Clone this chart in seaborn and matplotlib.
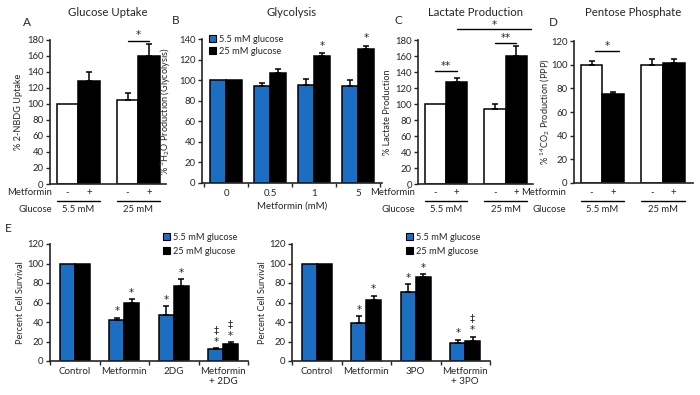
import numpy as np
import pandas as pd
import matplotlib.pyplot as plt
import matplotlib.transforms as mtransforms
from matplotlib.patches import Patch
from matplotlib.lines import Line2D
import seaborn as sns

W, H = 700, 395
BLUE = '#1b6ec2'
MARK_FONT = ['DejaVu Sans']

# --- data -----------------------------------------------------------------
glucose_levels = ['5.5 mM', '25 mM']
metformin_signs = ['-', '+']

uptake_ctrl = [100, 105]
uptake_ctrl_err = [0, 8]
uptake_met = [128, 160]
uptake_met_err = [12, 15]

metformin_doses = ['0', '0.5', '1', '5']
glyco_low = [100, 94, 95, 94]
glyco_low_err = [0, 3.5, 6, 6]
glyco_high = [100, 107, 123, 130]
glyco_high_err = [0, 3.5, 3, 3]
glyco_high_marks = ['', '', '*', '*']

lactate_ctrl = [100, 94]
lactate_ctrl_err = [0, 5.5]
lactate_met = [127, 160]
lactate_met_err = [6, 12]

ppp_ctrl = [100, 100]
ppp_ctrl_err = [3, 5]
ppp_met = [75, 101]
ppp_met_err = [2, 4]

surv_2dg_labels = ['Control', 'Metformin', '2DG', 'Metformin\n+ 2DG']
surv_2dg_low = [100, 42, 47, 12]
surv_2dg_low_err = [0, 2.5, 9, 1.5]
surv_2dg_high = [100, 60, 77, 17]
surv_2dg_high_err = [0, 3.5, 7, 2]
surv_2dg_low_marks = ['', '*', '*', '*‡']
surv_2dg_high_marks = ['', '*', '*', '*‡']

surv_3po_labels = ['Control', 'Metformin', '3PO', 'Metformin\n+ 3PO']
surv_3po_low = [100, 39, 71, 18]
surv_3po_low_err = [0, 7, 8, 4]
surv_3po_high = [100, 63, 86, 21]
surv_3po_high_err = [0, 4, 3, 4]
surv_3po_low_marks = ['', '*', '*', '*']
surv_3po_high_marks = ['', '*', '*', '*‡']

legend_labels = ['5.5 mM glucose', '25 mM glucose']

# --- style ----------------------------------------------------------------
sns.set_style('ticks')
plt.rcParams['font.family'] = ['Lato', 'DejaVu Sans']
plt.rcParams['axes.linewidth'] = 1.2

fig = plt.figure(figsize=(7, 3.95), dpi=100)


def px_axes(x0, y0, x1, y1):
    return fig.add_axes([x0 / W, 1 - y1 / H, (x1 - x0) / W, (y1 - y0) / H])


def grouped_bars(ax, cats, hues, values, errors, colors, width):
    rows = []
    for h, vals in zip(hues, values):
        for c, v in zip(cats, vals):
            rows.append({'cat': c, 'hue': h, 'val': v})
    sns.barplot(data=pd.DataFrame(rows), x='cat', y='val', hue='hue',
                order=cats, hue_order=hues, palette=dict(zip(hues, colors)),
                saturation=1, width=width, gap=0, edgecolor='black',
                linewidth=1.1, errorbar=None, legend=False, ax=ax)
    info = []
    for cont, errs in zip(ax.containers, errors):
        level = []
        for bar, e in zip(cont, errs):
            xc = bar.get_x() + bar.get_width() / 2
            top = bar.get_height()
            if e > 0:
                ax.errorbar(xc, top, yerr=[[0], [e]], fmt='none', ecolor='black',
                            elinewidth=1.1, capsize=2.5, capthick=1.1, zorder=3)
            level.append((xc, top + e))
        info.append(level)
    return info


def style_y(ax, ymax, step, label, label_x):
    ax.set_ylim(0, ymax)
    ax.set_yticks(np.arange(0, ymax + 1, step))
    ax.tick_params(axis='y', length=3, width=1, labelsize=6.8, pad=1.5)
    ax.set_ylabel(label, fontsize=6.6)
    ax.yaxis.set_label_coords(label_x, 0.5)
    sns.despine(ax=ax)


def add_marks(ax, info, marks, gap, step):
    # first character just above the error bar, second stacked over it
    for (xc, top), m in zip(info, marks):
        for k, ch in enumerate(m):
            ax.text(xc, top + gap + k * step, ch, ha='center', va='center',
                    fontsize=7.5, family=MARK_FONT, clip_on=False)


def sign_rows(ax, info, cats, width, label_right):
    blend = mtransforms.blended_transform_factory(ax.transData, fig.transFigure)
    for level, sign in zip(info, metformin_signs):
        for xc, _ in level:
            ax.text(xc, 1 - 193 / H, sign, transform=blend, ha='center',
                    va='center', fontsize=6.8)
    for i, c in enumerate(cats):
        fig.add_artist(Line2D([i - width / 2, i + width / 2], [1 - 201 / H] * 2,
                              transform=blend, color='black', lw=1))
        ax.text(i, 1 - 209 / H, c, transform=blend, ha='center', va='center',
                fontsize=6.8)
    fig.text(label_right / W, 1 - 193 / H, 'Metformin', ha='right', va='center',
             fontsize=6.8)
    fig.text(label_right / W, 1 - 209 / H, 'Glucose', ha='right', va='center',
             fontsize=6.8)
    ax.set_xticks([])
    ax.set_xlabel('')


def sig_line(ax, x0, x1, y, text, ty):
    ax.plot([x0, x1], [y, y], color='black', lw=1, clip_on=False)
    ax.text((x0 + x1) / 2, ty, text, ha='center', va='center', fontsize=7.5,
            family=MARK_FONT, clip_on=False)


def boundary_ticks(ax, labels, n):
    ax.set_xticks(range(n))
    ax.set_xticklabels(labels)
    ax.set_xticks(np.arange(-0.5, n, 1.0), minor=True)
    ax.tick_params(axis='x', which='major', length=0, labelsize=7, pad=4)
    ax.tick_params(axis='x', which='minor', length=3, width=1)
    ax.set_xlabel('')


def square_legend(ax, x_px, y_px, spacing):
    handles = [Patch(facecolor=BLUE, edgecolor='black', lw=0.8, label=legend_labels[0]),
               Patch(facecolor='black', edgecolor='black', lw=0.8, label=legend_labels[1])]
    ax.legend(handles=handles, loc='upper left', bbox_to_anchor=(x_px / W, 1 - y_px / H),
              bbox_transform=fig.transFigure, frameon=False, fontsize=6.7,
              handlelength=0.8, handleheight=0.8, handletextpad=0.3,
              borderpad=0, borderaxespad=0, labelspacing=spacing)


def title(x0, x1, text, letter, lx, ly):
    fig.text((x0 + x1) / 2 / W, 1 - 12 / H, text, ha='center', va='center', fontsize=8.2)
    fig.text(lx / W, 1 - ly / H, letter, ha='center', va='center', fontsize=8.5)


# --- A: glucose uptake ----------------------------------------------------
axA = px_axes(50, 39.5, 166, 184)
infoA = grouped_bars(axA, glucose_levels, metformin_signs, [uptake_ctrl, uptake_met],
                     [uptake_ctrl_err, uptake_met_err], ['white', 'black'], 0.72)
style_y(axA, 180, 20, '% 2-NBDG Uptake', -0.23)
sign_rows(axA, infoA, glucose_levels, 0.72, 52)
sig_line(axA, 0.82, 1.18, 178, '*', 185.5)
axA.set_xlim(-0.47, 1.46)
title(50, 166, 'Glucose Uptake', 'A', 27, 22)

# --- B: glycolysis --------------------------------------------------------
axB = px_axes(202, 39, 382, 183)
infoB = grouped_bars(axB, metformin_doses, legend_labels, [glyco_low, glyco_high],
                     [glyco_low_err, glyco_high_err], [BLUE, 'black'], 0.74)
style_y(axB, 140, 20, '% $\\mathregular{^{3}}$H$\\mathregular{_{2}}$O Production (Glycolysis)', -0.16)
boundary_ticks(axB, metformin_doses, 4)
axB.set_xlabel('Metformin (mM)', fontsize=7, labelpad=3)
add_marks(axB, infoB[1], glyco_high_marks, 7.5, 12)
square_legend(axB, 209, 35, 0.3)
axB.set_xlim(-0.55, 3.55)
title(202, 382, 'Glycolysis', 'B', 176, 20)

# --- C: lactate production ------------------------------------------------
axC = px_axes(418, 40, 533, 184)
infoC = grouped_bars(axC, glucose_levels, metformin_signs, [lactate_ctrl, lactate_met],
                     [lactate_ctrl_err, lactate_met_err], ['white', 'black'], 0.72)
style_y(axC, 180, 20, '% Lactate Production', -0.23)
sign_rows(axC, infoC, glucose_levels, 0.72, 415)
sig_line(axC, -0.18, 0.18, 141, '**', 148)
sig_line(axC, 0.82, 1.18, 176, '**', 182)
sig_line(axC, 0.18, 1.43, 194, '*', 199)
axC.set_xlim(-0.47, 1.46)
title(418, 533, 'Lactate Production', 'C', 398, 20)

# --- D: pentose phosphate -------------------------------------------------
axD = px_axes(574, 41, 693, 183)
infoD = grouped_bars(axD, glucose_levels, metformin_signs, [ppp_ctrl, ppp_met],
                     [ppp_ctrl_err, ppp_met_err], ['white', 'black'], 0.72)
style_y(axD, 120, 20, '% $\\mathregular{^{14}}$CO$\\mathregular{_{2}}$ Production (PPP)', -0.185)
sign_rows(axD, infoD, glucose_levels, 0.72, 566)
sig_line(axD, -0.12, 0.28, 111.5, '*', 115.5)
axD.set_xlim(-0.47, 1.5)
title(574, 693, 'Pentose Phosphate', 'D', 553, 22)

# --- E: cell survival -----------------------------------------------------
axE1 = px_axes(50, 244, 248, 361)
infoE1 = grouped_bars(axE1, surv_2dg_labels, legend_labels, [surv_2dg_low, surv_2dg_high],
                      [surv_2dg_low_err, surv_2dg_high_err], [BLUE, 'black'], 0.6)
style_y(axE1, 120, 20, 'Percent Cell Survival', -0.126)
boundary_ticks(axE1, surv_2dg_labels, 4)
add_marks(axE1, infoE1[0], surv_2dg_low_marks, 6.5, 12)
add_marks(axE1, infoE1[1], surv_2dg_high_marks, 6.5, 12)
square_legend(axE1, 163, 233, 0.55)
axE1.set_xlim(-0.5, 3.5)

axE2 = px_axes(292, 244, 490, 361)
infoE2 = grouped_bars(axE2, surv_3po_labels, legend_labels, [surv_3po_low, surv_3po_high],
                      [surv_3po_low_err, surv_3po_high_err], [BLUE, 'black'], 0.6)
style_y(axE2, 120, 20, 'Percent Cell Survival', -0.126)
boundary_ticks(axE2, surv_3po_labels, 4)
add_marks(axE2, infoE2[0], surv_3po_low_marks, 6.5, 12)
add_marks(axE2, infoE2[1], surv_3po_high_marks, 6.5, 12)
square_legend(axE2, 406, 233, 0.55)
axE2.set_xlim(-0.5, 3.5)
fig.text(8 / W, 1 - 228 / H, 'E', ha='center', va='center', fontsize=8.5)

fig.savefig('out.png', dpi=100)
